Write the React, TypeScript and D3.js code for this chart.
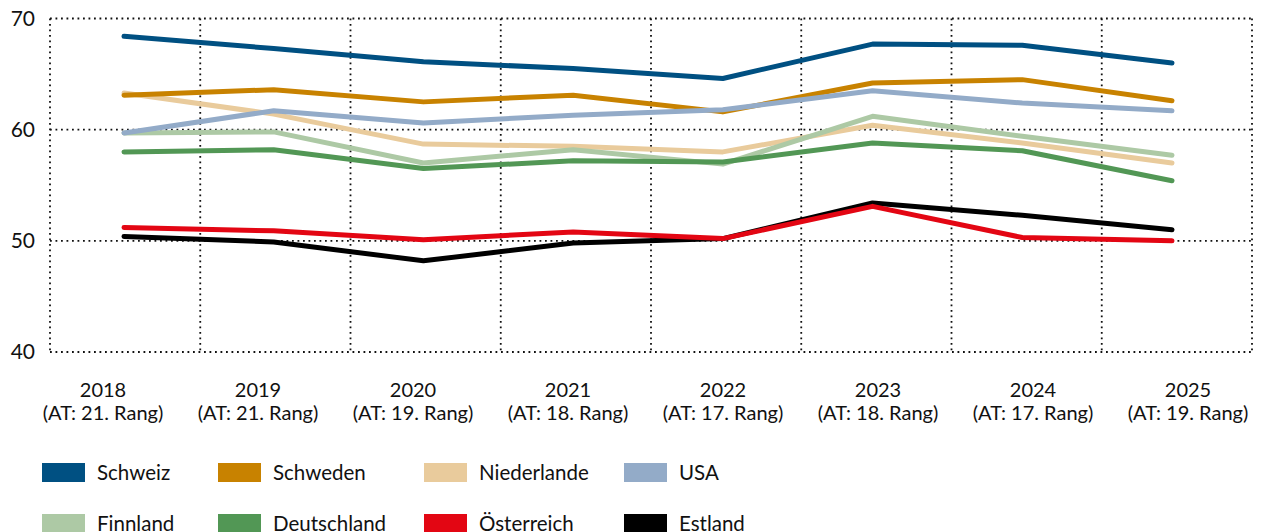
import React from "react";
import * as d3 from "d3";

const years = ["2018", "2019", "2020", "2021", "2022", "2023", "2024", "2025"];
const ranks = ["(AT: 21. Rang)", "(AT: 21. Rang)", "(AT: 19. Rang)", "(AT: 18. Rang)", "(AT: 17. Rang)", "(AT: 18. Rang)", "(AT: 17. Rang)", "(AT: 19. Rang)"];
const yTicks = [40, 50, 60, 70];

const schweiz = [68.4, 67.3, 66.1, 65.5, 64.6, 67.7, 67.6, 66.0];
const schweden = [63.1, 63.6, 62.5, 63.1, 61.6, 64.2, 64.5, 62.6];
const niederlande = [63.3, 61.4, 58.7, 58.5, 58.0, 60.4, 58.8, 57.0];
const usa = [59.7, 61.7, 60.6, 61.3, 61.8, 63.5, 62.4, 61.7];
const finnland = [59.7, 59.8, 57.0, 58.2, 56.9, 61.2, 59.4, 57.7];
const deutschland = [58.0, 58.2, 56.5, 57.2, 57.1, 58.8, 58.1, 55.4];
const oesterreich = [51.2, 50.9, 50.1, 50.8, 50.2, 53.1, 50.3, 50.0];
const estland = [50.4, 49.9, 48.2, 49.8, 50.2, 53.4, 52.3, 51.0];

const names = ["Schweiz", "Schweden", "Niederlande", "USA", "Finnland", "Deutschland", "Österreich", "Estland"];
const colors = ["#005082", "#c88200", "#e9cb9c", "#93abc8", "#adc9a5", "#529755", "#e30613", "#000000"];
const values = [schweiz, schweden, niederlande, usa, finnland, deutschland, oesterreich, estland];
const drawOrder = ["Estland", "Niederlande", "Finnland", "Deutschland", "Schweden", "USA", "Österreich", "Schweiz"];

const W = 1261;
const H = 532;
const plot = { left: 50, right: 1252, top: 18.5, bottom: 352 };
const legendCols = [42, 218, 424, 624];
const legendRows = [463, 514];
const FONT = "Lato, 'Open Sans', sans-serif";

export default function App() {
  const band = d3.scaleBand<string>().domain(years).range([plot.left, plot.right]);
  const x = d3.scalePoint<string>().domain(years).range([124, 1172]);
  const xl = d3.scalePoint<string>().domain(years).range([103, 1188]);
  const y = d3.scaleLinear().domain([40, 70]).range([plot.bottom, plot.top]);
  const line = d3
    .line<number>()
    .x((_, i) => x(years[i]) as number)
    .y((d) => y(d));

  const vLines = [...years.map((yr) => band(yr) as number), plot.right];
  const dot = { stroke: "#111", strokeWidth: 1.8, strokeDasharray: "1.8 3.7", fill: "none" };

  return (
    <svg width={W} height={H} style={{ position: "absolute", left: 0, top: 0, background: "#fff" }}>
      <g>
        {yTicks.map((t) => (
          <line key={"h" + t} x1={plot.left} x2={plot.right} y1={y(t)} y2={y(t)} {...dot} />
        ))}
        {vLines.map((v, i) => (
          <line key={"v" + i} x1={v} x2={v} y1={plot.top} y2={plot.bottom} {...dot} />
        ))}
      </g>
      <g fontFamily={FONT} fontSize={21} fill="#111">
        {yTicks.map((t) => (
          <text key={"t" + t} x={35} y={y(t)} dy="0.35em" textAnchor="end">
            {t}
          </text>
        ))}
      </g>
      <g fontFamily={FONT} fontSize={20} fill="#111" textAnchor="middle">
        {years.map((yr, i) => (
          <g key={"x" + yr}>
            <text x={xl(yr)} y={396.5}>{yr}</text>
            <text x={xl(yr)} y={420}>{ranks[i]}</text>
          </g>
        ))}
      </g>
      <g>
        {drawOrder.map((n) => {
          const i = names.indexOf(n);
          return (
            <path
              key={n}
              d={line(values[i]) as string}
              fill="none"
              stroke={colors[i]}
              strokeWidth={5}
              strokeLinejoin="round"
              strokeLinecap="round"
            />
          );
        })}
      </g>
      <g fontFamily={FONT} fontSize={20.5} fill="#111">
        {names.map((n, i) => {
          const cx = legendCols[i % 4];
          const cy = legendRows[Math.floor(i / 4)];
          return (
            <g key={"l" + n}>
              <rect x={cx} y={cy} width={43} height={19} fill={colors[i]} />
              <text x={cx + 55} y={cy + 9.5} dy="0.36em">{n}</text>
            </g>
          );
        })}
      </g>
    </svg>
  );
}
